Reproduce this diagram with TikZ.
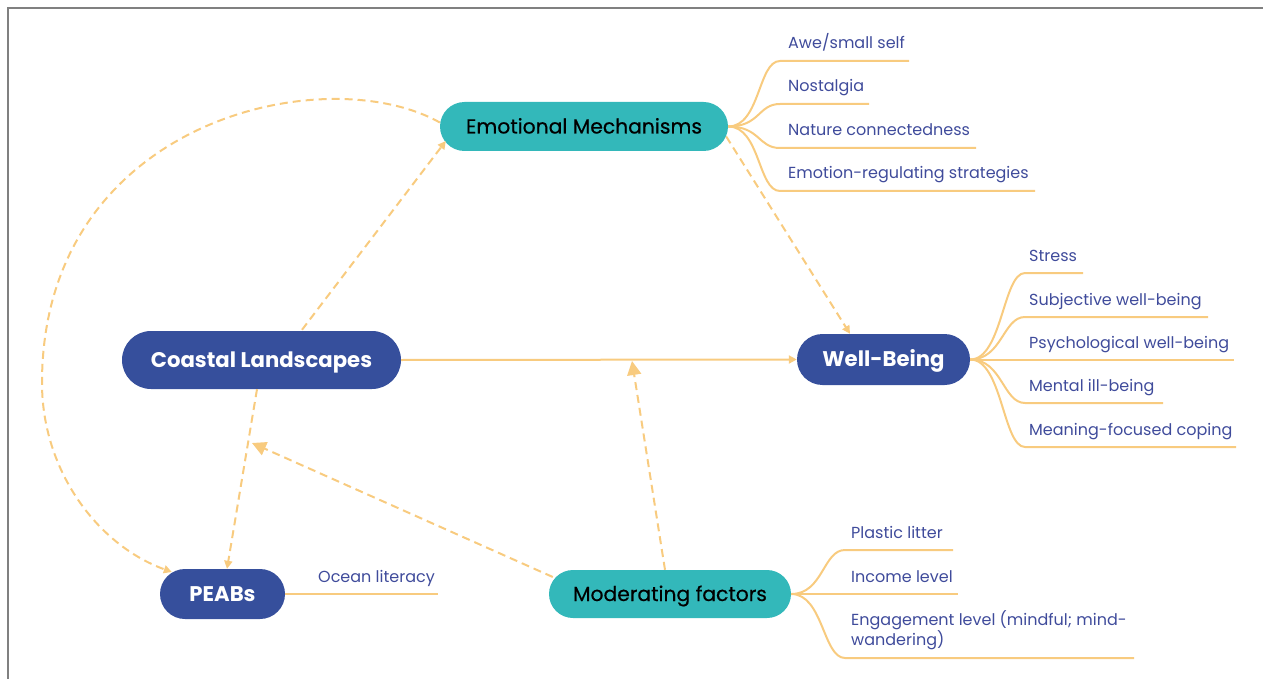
\documentclass[tikz,border=0pt]{standalone}
\usepackage{fontspec}
\setmainfont{Poppins}
\newfontfamily\tealfnt[FakeBold=0.5]{Poppins}
\usetikzlibrary{arrows.meta,shapes.misc}
\definecolor{orng}{HTML}{F8CB7F}
\definecolor{tealc}{HTML}{33B8BA}
\definecolor{navy}{HTML}{364F9C}
\definecolor{leaftxt}{HTML}{3F4B9B}
\definecolor{framec}{HTML}{808080}
\begin{document}
\begin{tikzpicture}[x=1pt,y=-1pt,
  pill/.style={rounded rectangle, inner sep=0pt, draw=none},
  bluepill/.style={pill, fill=navy, text=white, font=\fontsize{21.2}{25}\selectfont\bfseries, text height=14.8pt, text depth=0pt},
  tealpill/.style={pill, fill=tealc, text=black, font=\tealfnt\fontsize{20.3}{24}\selectfont, text height=14pt, text depth=0pt},
  leaf/.style={anchor=base west, inner sep=0pt, text=leaftxt, font=\fontsize{16}{20}\selectfont, align=left},
  branch/.style={draw=orng, line width=2pt},
  dashlink/.style={draw=orng, line width=2pt, dash pattern=on 8pt off 5pt, -{Triangle[length=8pt,width=8pt]}},
  bigdash/.style={draw=orng, line width=2pt, dash pattern=on 8pt off 5pt, -{Triangle[length=14pt,width=14pt]}},
  solidlink/.style={draw=orng, line width=2pt, -{Triangle[length=8pt,width=8pt]}},
]
\useasboundingbox (0,0) rectangle (1263,679);
% frame
\coordinate (f1) at (8,679); \coordinate (f2) at (8,8); \coordinate (f3) at (1263,8);
\draw[framec, line width=2.2pt] (f1) -- (f2) -- (f3);

% main nodes
\node[tealpill, minimum width=288pt, minimum height=49pt] (EM) at (584,126.5) {Emotional Mechanisms};
\node[bluepill, minimum width=279pt, minimum height=58pt] (CL) at (261.5,360) {Coastal Landscapes};
\node[bluepill, minimum width=173pt, minimum height=51pt] (WB) at (883.5,359.5) {Well-Being};
\node[bluepill, minimum width=125pt, minimum height=50pt] (PE) at (222.5,594) {PEABs};
\node[tealpill, minimum width=242pt, minimum height=48pt] (MF) at (670,594) {Moderating factors};

% Emotional Mechanisms leaves
\coordinate (em1) at (780,61);  \coordinate (em1e) at (909,61);
\coordinate (em2) at (780,104); \coordinate (em2e) at (869,104);
\coordinate (em3) at (780,148); \coordinate (em3e) at (976,148);
\coordinate (em4) at (780,191); \coordinate (em4e) at (1035,191);
\foreach \i in {1,2,3,4}{
  \draw[branch] (EM.east) .. controls +(32,0) and +(-22,0) .. (em\i) -- (em\i e);
}
\node[leaf] (l11) at (788,49) {Awe/small self};
\node[leaf] (l12) at (788,92) {Nostalgia};
\node[leaf] (l13) at (788,136) {Nature connectedness};
\node[leaf] (l14) at (788,179) {Emotion-regulating strategies};

% Well-Being leaves
\coordinate (wb1) at (1025,273);   \coordinate (wb1e) at (1083,273);
\coordinate (wb2) at (1025,317);   \coordinate (wb2e) at (1208,317);
\coordinate (wb3) at (1025,359.5); \coordinate (wb3e) at (1234,359.5);
\coordinate (wb4) at (1025,403);   \coordinate (wb4e) at (1163,403);
\coordinate (wb5) at (1025,447);   \coordinate (wb5e) at (1236,447);
\foreach \i in {1,2,3,4,5}{
  \draw[branch] (WB.east) .. controls +(32,0) and +(-22,0) .. (wb\i) -- (wb\i e);
}
\node[leaf] (l21) at (1029,261.5) {Stress};
\node[leaf] (l22) at (1029,305) {Subjective well-being};
\node[leaf] (l23) at (1029,348) {Psychological well-being};
\node[leaf] (l24) at (1029,391) {Mental ill-being};
\node[leaf] (l25) at (1029,435) {Meaning-focused coping};

% Moderating factors leaves
\coordinate (mf1) at (845,550); \coordinate (mf1e) at (953,550);
\coordinate (mf2) at (845,594); \coordinate (mf2e) at (958,594);
\coordinate (mf3) at (845,658); \coordinate (mf3e) at (1134,658);
\foreach \i in {1,2,3}{
  \draw[branch] (MF.east) .. controls +(32,0) and +(-22,0) .. (mf\i) -- (mf\i e);
}
\node[leaf] (l31) at (851,538) {Plastic litter};
\node[leaf] (l32) at (851,582) {Income level};
\node[leaf] (l33) at (851,645.5) {Engagement level (mindful; mind-\\wandering)};

% PEABs leaf
\coordinate (pe1e) at (438,594);
\draw[branch] (PE.east) -- (pe1e);
\node[leaf] (l41) at (318,582) {Ocean literacy};

% connectors
\draw[solidlink] (CL.east) -- (WB.west);
\draw[dashlink] ([shift={(40.5,-1)}]CL.north) -- ([shift={(6,14.5)}]EM.west);
\draw[dashlink] ([shift={(-2,10)}]EM.east) -- ([shift={(-33.5,0)}]WB.north);
\draw[dashlink] ([shift={(-4.5,0)}]CL.south) -- ([shift={(4.5,0)}]PE.north);
\coordinate (loopL) at (42,383);
\draw[dashlink] ([shift={(0,-4)}]EM.west) .. controls (325,58) and (42,120) .. (loopL)
   .. controls (42,470) and (97,545) .. ([shift={(12,-22)}]PE.west);
\coordinate (tip1) at (252,443);
\coordinate (tip2) at (632,361);
\draw[bigdash] ([shift={(4,-17)}]MF.west) -- (tip1);
\draw[bigdash] ([shift={(-5,0)}]MF.north) -- (tip2);
\end{tikzpicture}
\end{document}
